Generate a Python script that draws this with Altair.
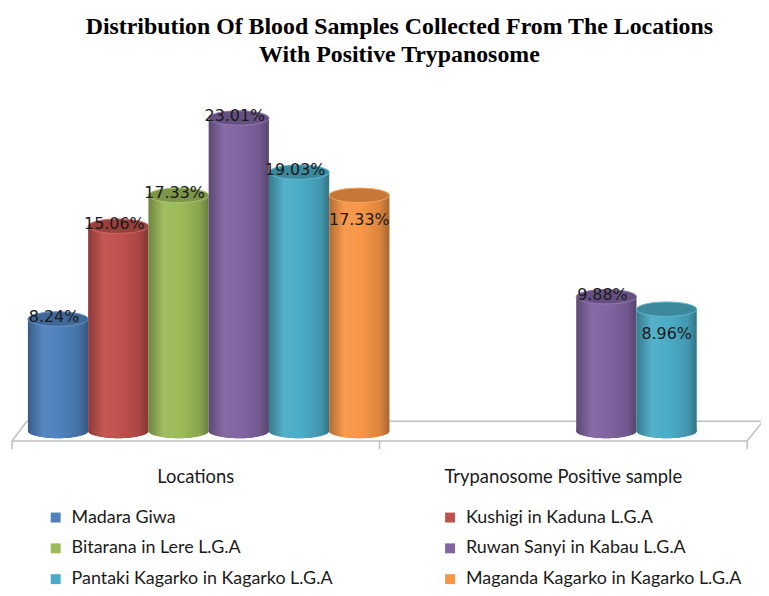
import altair as alt
import pandas as pd

# ---------------- data ----------------
groups = ["Locations", "Trypanosome Positive sample"]
series = [
    "Madara Giwa",
    "Kushigi in Kaduna L.G.A",
    "Bitarana in Lere L.G.A",
    "Ruwan Sanyi in Kabau L.G.A",
    "Pantaki Kagarko in Kagarko L.G.A",
    "Maganda Kagarko in Kagarko L.G.A",
]
colors = ["#4F81BD", "#C0504D", "#9BBB59", "#8064A2", "#4BACC6", "#F79646"]
location_values = [8.24, 15.06, 17.33, 23.01, 19.03, 17.33]
positive_series = ["Ruwan Sanyi in Kabau L.G.A", "Pantaki Kagarko in Kagarko L.G.A"]
positive_values = [9.88, 8.96]
inside_labels = [
    ("Locations", "Maganda Kagarko in Kagarko L.G.A"),
    ("Trypanosome Positive sample", "Pantaki Kagarko in Kagarko L.G.A"),
]

rows = []
for s, v in zip(series, location_values):
    rows.append({"group": groups[0], "series": s, "value": v})
for s, v in zip(positive_series, positive_values):
    rows.append({"group": groups[1], "series": s, "value": v})
df = pd.DataFrame(rows)
df["label"] = df["value"].map(lambda v: f"{v:.2f}%")
df["inside"] = [(g, s) in inside_labels for g, s in zip(df["group"], df["series"])]
df["zero"] = 0.0

one = pd.DataFrame({"k": [0]})

# ---------------- styling helpers ----------------
W, H = 740, 362
SHIFT = 13          # 3-D depth shift of the columns relative to the front floor edge
ELLIPSE = "M-1,0A1,0.24,0,1,1,1,0A1,0.24,0,1,1,-1,0Z"
BAR_W = W / 2 / 6.1
CAP_SIZE = BAR_W ** 2
FLOOR = "#bfbfbf"
LABEL_FONT = "Lato"


def shade(hexc, f):
    r, g, b = (int(hexc[i:i + 2], 16) for i in (1, 3, 5))
    if f < 0:
        r, g, b = (int(c * (1 + f)) for c in (r, g, b))
    else:
        r, g, b = (int(c + (255 - c) * f) for c in (r, g, b))
    return "#%02x%02x%02x" % (r, g, b)


def cyl_gradient(c):
    return alt.Gradient(
        gradient="linear",
        x1=0, x2=1, y1=0, y2=0,
        stops=[
            alt.GradientStop(color=shade(c, -0.28), offset=0),
            alt.GradientStop(color=shade(c, 0.05), offset=0.25),
            alt.GradientStop(color=c, offset=0.55),
            alt.GradientStop(color=shade(c, -0.12), offset=0.85),
            alt.GradientStop(color=shade(c, -0.32), offset=1),
        ],
    )


x_enc = alt.X(
    "group:N",
    scale=alt.Scale(domain=groups, range=[SHIFT, W + SHIFT], paddingInner=0, paddingOuter=0),
    axis=alt.Axis(
        title=None, labelAngle=0, domain=False, ticks=False, grid=False,
        labelOffset=-SHIFT, labelPadding=27, labelFontSize=18.5, labelFont=LABEL_FONT,
        labelColor="#1a1a1a", labelLimit=500,
    ),
)
xo_enc = alt.XOffset(
    "series:N", scale=alt.Scale(domain=series, paddingInner=0, paddingOuter=0.05)
)
y_scale = alt.Scale(domain=[-0.73, 25.7])
y_enc = alt.Y("value:Q", scale=y_scale, axis=None)
y_zero = alt.Y("zero:Q", scale=y_scale, axis=None)

base = alt.Chart(df)


# ---------------- floor (decoration) ----------------
def seg(x1, y1, x2, y2):
    return alt.Chart(one).mark_rule(color=FLOOR, strokeWidth=1.5).encode(
        x=alt.value(x1), x2=alt.value(x2), y=alt.value(y1), y2=alt.value(y2)
    )


floor = [
    seg(0, H, W, H),
    seg(15, H - 20, W + 16, H - 20),
    seg(0, H, 15, H - 20),
    seg(W, H, W + 16, H - 20),
    seg(0, H, 0, H + 8),
    seg(W / 2, H, W / 2, H + 8),
    seg(W, H, W, H + 8),
]

# legend source: solid bottom ellipses (covered later by shaded ones)
legend_layer = base.mark_point(
    shape=ELLIPSE, size=CAP_SIZE, filled=True, opacity=1, strokeWidth=0
).encode(
    x=x_enc,
    xOffset=xo_enc,
    y=y_zero,
    color=alt.Color(
        "series:N",
        scale=alt.Scale(domain=series, range=colors),
        legend=alt.Legend(
            title=None, orient="none", legendX=35, legendY=430, columns=2,
            direction="horizontal",
            symbolType="square", symbolSize=100, symbolStrokeWidth=0,
            labelFont=LABEL_FONT, labelFontSize=18, labelColor="#1a1a1a",
            labelOffset=7, columnPadding=109, rowPadding=13, padding=0,
            labelLimit=400,
        ),
    ),
)

layers = floor + [legend_layer]

for s, c in zip(series, colors):
    sub = base.transform_filter(alt.datum.series == s)
    bottom = sub.mark_point(
        shape=ELLIPSE, size=CAP_SIZE, filled=True, opacity=1, strokeWidth=0,
        color=cyl_gradient(c),
    ).encode(x=x_enc, xOffset=xo_enc, y=y_zero)
    bar = sub.mark_bar(color=cyl_gradient(c)).encode(
        x=x_enc, xOffset=xo_enc, y=y_enc, y2=alt.Y2("zero:Q")
    )
    cap = sub.mark_point(
        shape=ELLIPSE, size=CAP_SIZE, filled=True, opacity=1,
        color=shade(c, -0.2), stroke=shade(c, 0.15), strokeWidth=1,
    ).encode(x=x_enc, xOffset=xo_enc, y=y_enc)
    layers += [bottom, bar, cap]

text_out = base.transform_filter(~alt.datum.inside).mark_text(
    font="DejaVu Sans", fontSize=16, baseline="alphabetic", dy=3, dx=-4,
    color="#1a1a1a",
).encode(x=x_enc, xOffset=xo_enc, y=y_enc, text="label:N")
text_in = base.transform_filter(alt.datum.inside).mark_text(
    font="DejaVu Sans", fontSize=16, baseline="alphabetic", dy=30,
    color="#1a1a1a",
).encode(x=x_enc, xOffset=xo_enc, y=y_enc, text="label:N")
layers += [text_out, text_in]

chart = alt.layer(*layers).properties(
    width=W,
    height=H,
    autosize="none",
    padding={"left": 4, "top": 72, "right": 14, "bottom": 146},
    title=alt.Title(
        ["Distribution Of Blood Samples Collected From The Locations", "With Positive Trypanosome"],
        font="Liberation Serif", fontSize=24, fontWeight="bold", color="#000000",
        anchor="middle", dx=20, offset=15, lineHeight=28,
    ),
).configure_view(stroke=None)

chart.save("out.html", embed_options={"renderer": "svg", "actions": False})
